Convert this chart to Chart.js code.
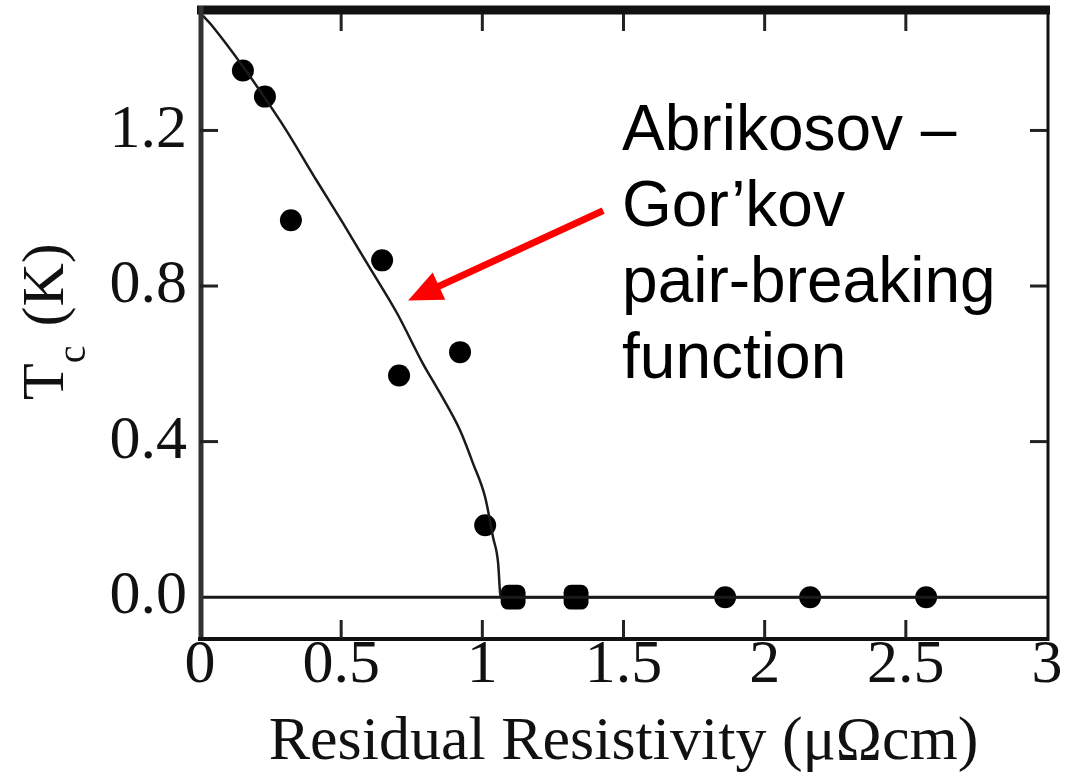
<!DOCTYPE html>
<html>
<head>
<meta charset="utf-8">
<script src="https://cdn.jsdelivr.net/npm/chart.js@4/dist/chart.umd.min.js"></script>
<style>
  html, body { margin: 0; padding: 0; background: #fff; }
  #wrap { width: 1065px; height: 776px; }
</style>
</head>
<body>
<div id="wrap"><canvas id="tc-chart"></canvas></div>
<script>
// tick labels
const xTicks = [0, 0.5, 1, 1.5, 2, 2.5, 3];
const yTicks = [0, 0.4, 0.8, 1.2];

// measured points (residual resistivity, Tc)
const resistivity = [0.152, 0.23, 0.322, 0.645, 0.705, 0.921, 1.01, 1.109, 1.332, 1.86, 2.161, 2.572];
const tc = [1.354, 1.287, 0.969, 0.866, 0.57, 0.63, 0.185, 0, 0, 0, 0, 0];
const bigPoint = [false, false, false, false, false, false, false, true, true, false, false, false];

// Abrikosov-Gor'kov curve
const curveX = [0.01, 0.042, 0.283, 0.414, 0.507, 0.592, 0.698, 0.79, 0.85, 0.921, 0.967, 1.01, 1.038, 1.056, 1.063, 1.066, 3];
const curveY = [1.495, 1.47, 1.226, 1.07, 0.961, 0.858, 0.73, 0.6, 0.525, 0.429, 0.344, 0.257, 0.154, 0.087, 0.01, 0, 0];

// zero line
const zeroX = [0, 3];
const zeroY = [0, 0];

// annotation
const noteLines = ["Abrikosov \u2013", "Gor\u2019kov", "pair-breaking", "function"];
const notePos = { x: 1.495, y: 1.149 };
const arrowFrom = { x: 1.428, y: 0.994 };
const arrowTo = { x: 0.737, y: 0.763 };

const serif = "'Liberation Serif', 'Times New Roman', serif";

const framePlugin = {
  id: "frame",
  afterDatasetsDraw(chart) {
    const ctx = chart.ctx;
    const a = chart.chartArea;
    const xs = chart.scales.x;
    const ys = chart.scales.y;
    ctx.save();
    ctx.lineCap = "butt";
    // borders
    ctx.strokeStyle = "#111";
    ctx.lineWidth = 9;
    ctx.beginPath(); ctx.moveTo(a.left - 3, a.top + 4); ctx.lineTo(a.right + 3, a.top + 4); ctx.stroke();
    ctx.lineWidth = 5;
    ctx.strokeStyle = "#333";
    ctx.beginPath(); ctx.moveTo(a.left + 1, a.top); ctx.lineTo(a.left + 1, a.bottom + 3); ctx.stroke();
    ctx.strokeStyle = "#111";
    ctx.lineWidth = 4;
    ctx.beginPath(); ctx.moveTo(a.left - 2, a.bottom + 1); ctx.lineTo(a.right + 2, a.bottom + 1); ctx.stroke();
    ctx.lineWidth = 3;
    ctx.beginPath(); ctx.moveTo(a.right + 1, a.top); ctx.lineTo(a.right + 1, a.bottom + 3); ctx.stroke();
    // inside ticks
    ctx.lineWidth = 3;
    ctx.strokeStyle = "#222";
    xTicks.slice(1, -1).forEach((v) => {
      const px = xs.getPixelForValue(v);
      ctx.beginPath(); ctx.moveTo(px, a.bottom); ctx.lineTo(px, a.bottom - 18); ctx.stroke();
      ctx.beginPath(); ctx.moveTo(px, a.top + 8); ctx.lineTo(px, a.top + 25); ctx.stroke();
    });
    yTicks.slice(1).forEach((v) => {
      const py = ys.getPixelForValue(v);
      ctx.beginPath(); ctx.moveTo(a.left, py); ctx.lineTo(a.left + 18, py); ctx.stroke();
      ctx.beginPath(); ctx.moveTo(a.right, py); ctx.lineTo(a.right - 17, py); ctx.stroke();
    });
    ctx.restore();
  },
  afterDraw(chart) {
    const ctx = chart.ctx;
    const xs = chart.scales.x;
    const ys = chart.scales.y;
    ctx.save();
    // y title with subscript
    ctx.translate(63, 400);
    ctx.rotate(-Math.PI / 2);
    ctx.fillStyle = "#111";
    ctx.textBaseline = "alphabetic";
    ctx.textAlign = "left";
    ctx.font = "60px " + serif;
    ctx.fillText("T", 0, 0);
    let w = ctx.measureText("T").width;
    ctx.font = "40px " + serif;
    ctx.fillText("c", w, 22);
    w += ctx.measureText("c").width + 4;
    ctx.font = "60px " + serif;
    ctx.fillText(" (K)", w, 0);
    ctx.restore();

    // annotation text
    ctx.save();
    ctx.fillStyle = "#000";
    ctx.font = "64px 'Liberation Sans', Arial, sans-serif";
    ctx.textBaseline = "alphabetic";
    const tx = xs.getPixelForValue(notePos.x);
    const ty = ys.getPixelForValue(notePos.y);
    noteLines.forEach((line, i) => ctx.fillText(line, tx, ty + i * 76));

    // red arrow
    const x0 = xs.getPixelForValue(arrowFrom.x), y0 = ys.getPixelForValue(arrowFrom.y);
    const x1 = xs.getPixelForValue(arrowTo.x), y1 = ys.getPixelForValue(arrowTo.y);
    const ang = Math.atan2(y1 - y0, x1 - x0);
    const headLen = 34, headW = 15;
    const bx = x1 - headLen * Math.cos(ang), by = y1 - headLen * Math.sin(ang);
    ctx.strokeStyle = "#ff0000";
    ctx.fillStyle = "#ff0000";
    ctx.lineWidth = 7;
    ctx.beginPath(); ctx.moveTo(x0, y0); ctx.lineTo(bx + 4 * Math.cos(ang), by + 4 * Math.sin(ang)); ctx.stroke();
    ctx.beginPath();
    ctx.moveTo(x1, y1);
    ctx.lineTo(bx + headW * Math.sin(ang), by - headW * Math.cos(ang));
    ctx.lineTo(bx - headW * Math.sin(ang), by + headW * Math.cos(ang));
    ctx.closePath();
    ctx.fill();
    ctx.restore();
  },
};

const config = {
  type: "scatter",
  data: {
    datasets: [
      {
        data: zeroX.map((v, i) => ({ x: v, y: zeroY[i] })),
        showLine: true,
        borderColor: "#1a1a1a",
        borderWidth: 3,
        pointRadius: 0,
      },
      {
        data: curveX.map((v, i) => ({ x: v, y: curveY[i] })),
        showLine: true,
        borderColor: "#1a1a1a",
        borderWidth: 2.5,
        pointRadius: 0,
        cubicInterpolationMode: "monotone",
      },
      {
        data: resistivity.map((v, i) => ({ x: v, y: tc[i] })),
        backgroundColor: "#000",
        borderColor: "#000",
        borderWidth: 0,
        pointStyle: bigPoint.map((b) => (b ? "rectRounded" : "circle")),
        pointRadius: bigPoint.map((b) => (b ? 14.5 : 11)),
      },
    ],
  },
  options: {
    responsive: true,
    maintainAspectRatio: false,
    animation: false,
    layout: { autoPadding: false, padding: { top: 6, right: 18, left: 0, bottom: 0 } },
    plugins: {
      legend: { display: false },
      tooltip: { enabled: false },
    },
    scales: {
      x: {
        type: "linear",
        min: 0,
        max: 3,
        afterBuildTicks: (s) => { s.ticks = xTicks.map((v) => ({ value: v })); },
        afterFit: (s) => { s.height = 138; s.paddingLeft = 0; s.paddingRight = 0; },
        grid: { display: false, drawTicks: false },
        border: { display: false },
        ticks: {
          color: "#111",
          padding: -9,
          maxRotation: 0,
          autoSkip: false,
          font: { family: serif, size: 62 },
          callback: (v) => String(v),
        },
        title: {
          display: true,
          text: "Residual Resistivity (\u03bc\u03a9cm)",
          color: "#111",
          font: { family: serif, size: 62 },
          padding: { top: 0, bottom: -4 },
        },
      },
      y: {
        type: "linear",
        min: -0.105,
        max: 1.52,
        afterBuildTicks: (s) => { s.ticks = yTicks.map((v) => ({ value: v })); },
        afterFit: (s) => { s.width = 200; s.paddingTop = 0; s.paddingBottom = 0; },
        grid: { display: false, drawTicks: false },
        border: { display: false },
        ticks: {
          color: "#111",
          padding: 13,
          font: { family: serif, size: 62 },
          callback: (v) => Number(v).toFixed(1),
        },
      },
    },
  },
  plugins: [framePlugin],
};

const myChart = new Chart(document.getElementById("tc-chart"), config);
</script>
</body>
</html>
